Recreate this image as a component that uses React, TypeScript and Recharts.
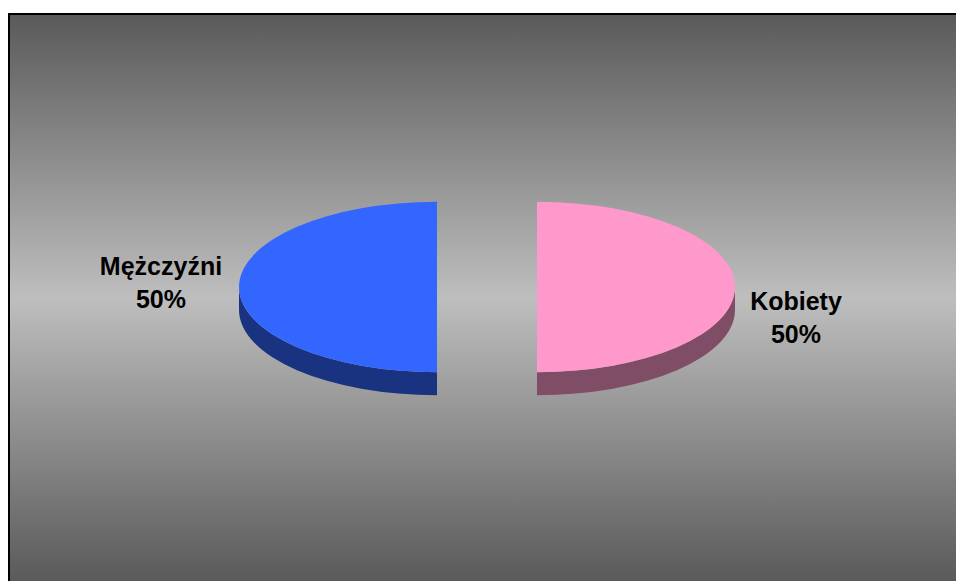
import React from "react";
import { PieChart, Pie, Cell } from "recharts";

const CATEGORIES = ["Mężczyźni", "Kobiety"];
const VALUES = [50, 50];
const TOP_COLORS = ["#3366FF", "#FF99CC"];
const SIDE_COLORS = ["#1A3380", "#804D66"];

const data = CATEGORIES.map((name, i) => ({ name, value: VALUES[i] }));

const RATIO = 0.43;
const DEPTH = 23;
const EXPLODE = 50;
const FONT = "'Liberation Sans', Arial, sans-serif";

const rad = (d: number) => (d * Math.PI) / 180;

function renderSlice(props: any) {
  const { cx, cy, outerRadius, startAngle, endAngle, midAngle, index, percent, name } = props;
  const rx = outerRadius;
  const ry = outerRadius * RATIO;
  const ox = cx + EXPLODE * Math.cos(rad(midAngle));
  const oy = cy - EXPLODE * Math.sin(rad(midAngle)) * RATIO;
  const pt = (a: number, dy = 0) => [ox + rx * Math.cos(rad(a)), oy - ry * Math.sin(rad(a)) + dy];
  const s = Math.min(startAngle, endAngle);
  const e = Math.max(startAngle, endAngle);
  const large = e - s > 180 ? 1 : 0;
  const [sx, sy] = pt(s);
  const [ex, ey] = pt(e);
  const top = `M${ox},${oy} L${sx},${sy} A${rx},${ry} 0 ${large} 0 ${ex},${ey} Z`;
  const lo = Math.max(s, 180);
  const hi = Math.min(e, 360);
  let side = "";
  if (hi > lo) {
    const [lx, ly] = pt(lo);
    const [hx, hy] = pt(hi);
    const [hx2, hy2] = pt(hi, DEPTH);
    const [lx2, ly2] = pt(lo, DEPTH);
    side = `M${lx},${ly} A${rx},${ry} 0 0 0 ${hx},${hy} L${hx2},${hy2} A${rx},${ry} 0 0 1 ${lx2},${ly2} Z`;
  }
  const isLeft = Math.cos(rad(midAngle)) < 0;
  const edgeX = ox + rx * Math.cos(rad(midAngle));
  const tx = isLeft ? edgeX - 78 : edgeX + 61;
  const ty = isLeft ? oy - 12 : oy + 23;
  return (
    <g key={`slice-${index}`}>
      {side && <path d={side} fill={SIDE_COLORS[index]} stroke="none" />}
      <path d={top} fill={TOP_COLORS[index]} stroke="none" />
      <text
        x={tx}
        y={ty}
        textAnchor="middle"
        fontFamily={FONT}
        fontWeight="bold"
        fontSize={25}
        fill="#000"
      >
        <tspan x={tx} y={ty}>{name}</tspan>
        <tspan x={tx} y={ty + 33}>{`${Math.round(percent * 100)}%`}</tspan>
      </text>
    </g>
  );
}

export default function App() {
  return (
    <div
      style={{
        position: "fixed",
        left: 8,
        top: 13,
        width: 948,
        height: 568,
        boxSizing: "border-box",
        borderLeft: "2px solid #000",
        borderTop: "2px solid #000",
        background: "linear-gradient(to bottom, #5a5a5a 0%, #bebebe 50%, #5a5a5a 100%)",
        overflow: "hidden",
      }}
    >
      <PieChart width={946} height={566} margin={{ top: 0, right: 0, bottom: 0, left: 0 }}>
        <Pie
          data={data}
          dataKey="value"
          nameKey="name"
          cx={477}
          cy={272}
          outerRadius={198}
          startAngle={90}
          endAngle={450}
          stroke="none"
          label={renderSlice}
          labelLine={false}
          isAnimationActive={false}
        >
          {data.map((d, i) => (
            <Cell key={d.name} fill="transparent" stroke="none" />
          ))}
        </Pie>
      </PieChart>
    </div>
  );
}
